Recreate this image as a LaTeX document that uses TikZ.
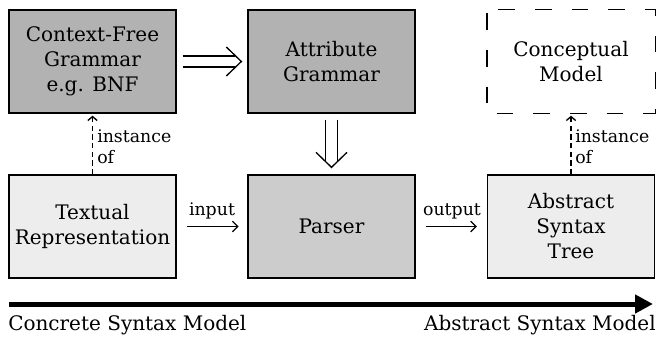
\documentclass[tikz,border=0pt]{standalone}
\usepackage{fontspec}
\setmainfont{DejaVu Serif}
\usetikzlibrary{arrows.meta,calc}
\definecolor{darkbox}{RGB}{178,178,178}
\definecolor{midbox}{RGB}{204,204,204}
\definecolor{lightbox}{RGB}{237,237,237}
\tikzset{
  box/.style={draw, line width=1pt, minimum width=125.25pt, minimum height=77.25pt,
    align=center, inner sep=0pt, font=\fontsize{15}{18.75}\selectfont},
  lbl/.style={font=\fontsize{13}{15.75}\selectfont, inner sep=0pt},
  bigl/.style={font=\fontsize{15}{18}\selectfont, inner sep=0pt},
  plain/.style={line width=0.9pt, -{Straight Barb[length=4pt,width=8pt]}},
  inst/.style={line width=1pt, dash pattern=on 4pt off 2.5pt, -{Straight Barb[length=3pt,width=7pt]}},
  dline/.style={line width=1pt},
}
\begin{document}
\begin{tikzpicture}[x=0.75pt,y=-0.75pt]
\useasboundingbox (0,0) rectangle (657,337);
% top row
\node[box, fill=darkbox] (cfg) at (92.5,61.5) {Context-Free\\Grammar\\e.g. BNF};
\node[box, fill=darkbox] (ag) at (331.5,61.5) {Attribute\\Grammar};
\node[box, draw=none] (cm) at (571,61.5) {Conceptual\\Model};
\draw[line width=1pt, dash pattern=on 12.5pt off 15pt, dash phase=-3pt] (cm.north west) rectangle (cm.south east);
% bottom row
\node[box, fill=lightbox] (tr) at (92.5,226.5) {Textual\\Representation};
\node[box, fill=midbox] (ps) at (331.5,226.5) {Parser};
\node[box, fill=lightbox] (ast) at (571,226.5) {Abstract\\Syntax\\Tree};
% double arrow cfg -> ag
\coordinate (h0) at ($(cfg.east)+(6,0)$);
\coordinate (h1) at ($(ag.west)+(-6,0)$);
\draw[dline] ($(h0)+(0,-5.5)$) -- ($(h1)+(-6,-5.5)$);
\draw[dline] ($(h0)+(0,5.5)$) -- ($(h1)+(-6,5.5)$);
\draw[dline] ($(h1)+(-15,-14.5)$) -- (h1) -- ($(h1)+(-15,14.5)$);
% double arrow ag -> parser
\coordinate (v0) at ($(ag.south)+(0,6)$);
\coordinate (v1) at ($(ps.north)+(0,-7)$);
\draw[dline] ($(v0)+(-6,0)$) -- ($(v1)+(-6,-6)$);
\draw[dline] ($(v0)+(6,0)$) -- ($(v1)+(6,-6)$);
\draw[dline] ($(v1)+(-15.5,-15)$) -- (v1) -- ($(v1)+(15.5,-15)$);
% instance of
\draw[inst, shorten >=1.5pt] (tr.north) -- (cfg.south);
\draw[inst, shorten >=1.5pt] (ast.north) -- (cm.south);
\node[lbl, anchor=base west, align=left] (i1) at (97,163) {instance\\of};
\node[lbl, anchor=base west, align=left] (i2) at (575,163) {instance\\of};
% input / output
\draw[plain, shorten <=8pt, shorten >=6.5pt] (tr.east) -- (ps.west);
\draw[plain, shorten <=8pt, shorten >=7.5pt] (ps.east) -- (ast.west);
\node[lbl, anchor=base] (in) at (212,215) {input};
\node[lbl, anchor=base] (out) at (452,215) {output};
% bottom axis
\coordinate (a0) at (9,304);
\coordinate (a1) at (653,304);
\draw[line width=3.75pt, -{Triangle[length=13.5pt,width=13.5pt]}] (a0) -- (a1);
\node[bigl, anchor=base west] (csm) at (8,330) {Concrete Syntax Model};
\node[bigl, anchor=base east] (asm) at (656,330) {Abstract Syntax Model};
\end{tikzpicture}
\end{document}
